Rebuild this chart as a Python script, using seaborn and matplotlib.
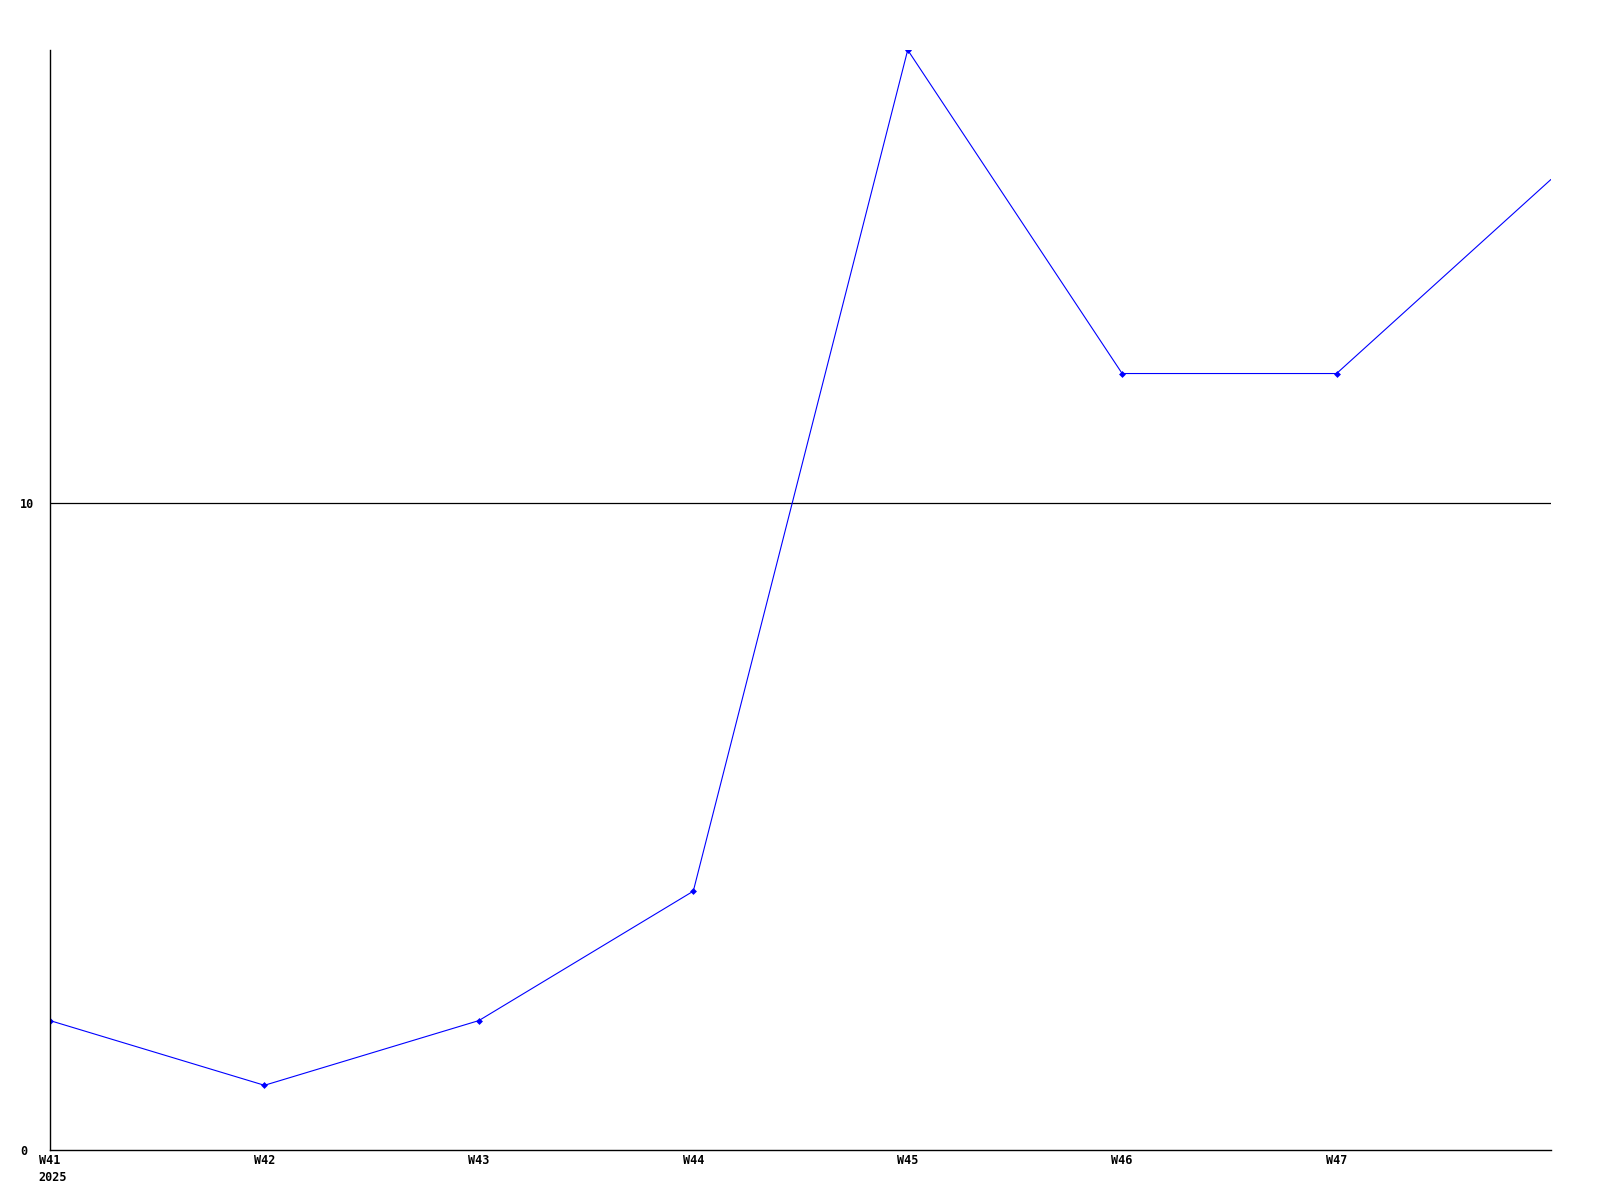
import matplotlib
matplotlib.use("Agg")
import matplotlib.pyplot as plt
import seaborn as sns
import pandas as pd

weeks = ["W41", "W42", "W43", "W44", "W45", "W46", "W47", "W48"]
values = [2, 1, 2, 4, 17, 12, 12, 15]
tick_labels = ["W41", "W42", "W43", "W44", "W45", "W46", "W47"]
year_label = "2025"
y_ticks = [0, 10]

sns.set_theme(style="white")
plt.rcParams['font.family'] = ['DejaVu Sans Mono']

df = pd.DataFrame({"x": range(len(weeks)), "week": weeks, "value": values})

fig = plt.figure(figsize=(16, 12), dpi=100)
ax = fig.add_axes([50/1600, 1 - 1150/1200, 1501/1600, 1100/1200])

sns.lineplot(data=df, x="x", y="value", ax=ax, color="#0000ff", linewidth=0.8,
             marker="D", markersize=3.5, markeredgewidth=0,
             markevery=list(range(len(weeks) - 1)))

ax.set_xlim(0, len(weeks) - 1)
ax.set_ylim(0, max(values))
ax.axhline(10, color="black", linewidth=0.9, zorder=0)

ax.set_xticks(range(len(tick_labels)))
ax.set_xticklabels(tick_labels, fontsize=8.5, fontweight="bold", color="black")
ax.set_yticks(y_ticks)
ax.set_yticklabels([str(t) for t in y_ticks], fontsize=8.5, fontweight="bold",
                   ha="left", color="black")
ax.tick_params(axis="x", length=0, pad=3)
ax.tick_params(axis="y", length=0, pad=21.5)
ax.set_xlabel("")
ax.set_ylabel("")

for s in ["top", "right"]:
    ax.spines[s].set_visible(False)
for s in ["left", "bottom"]:
    ax.spines[s].set_color("black")
    ax.spines[s].set_linewidth(1.0)

fig.text(38/1568, 1 - 1154/1176, year_label, fontsize=8.5, fontweight="bold",
         ha="left", va="center", color="black")

fig.savefig("out.png", dpi=100, facecolor="white")
